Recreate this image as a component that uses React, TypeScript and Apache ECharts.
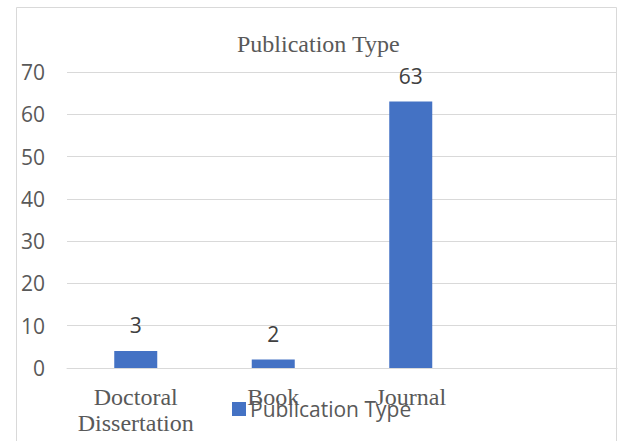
import React, { useEffect, useRef } from "react";
import * as echarts from "echarts";

const categories = ["Doctoral\nDissertation", "Book", "Journal", ""];
const values = [4, 2, 63, null];
const valueLabels = ["3", "2", "63", ""];
const seriesName = "Publication Type";
const chartTitle = "Publication Type";
const yMin = 0;
const yMax = 70;
const yInterval = 10;

export default function App() {
  const ref = useRef<HTMLDivElement>(null);
  useEffect(() => {
    if (!ref.current) return;
    const chart = echarts.init(ref.current, null, { renderer: "svg" });
    chart.setOption({
      animation: false,
      backgroundColor: "#ffffff",
      title: {
        text: chartTitle,
        left: 237,
        top: 32,
        padding: 0,
        textStyle: {
          fontFamily: "Liberation Serif",
          fontSize: 24,
          fontWeight: "normal",
          color: "#595959",
          lineHeight: 24,
        },
      },
      graphic: [
        {
          type: "rect",
          shape: { x: 16.5, y: 7.5, width: 600, height: 460 },
          style: { fill: "none", stroke: "#d9d9d9", lineWidth: 1 },
          silent: true,
          z: -1,
        },
      ],
      legend: {
        data: [seriesName],
        left: 232,
        top: 397,
        padding: 0,
        itemWidth: 14,
        itemHeight: 14,
        itemGap: 6,
        icon: "rect",
        textStyle: {
          fontFamily: "Open Sans",
          fontSize: 21,
          color: "#595959",
          lineHeight: 24,
          padding: [0, 0, 0, -1],
        },
      },
      grid: { left: 67, right: 1, top: 72, bottom: 73, containLabel: false },
      xAxis: {
        type: "category",
        data: categories,
        axisLine: { show: true, lineStyle: { color: "#d9d9d9", width: 1 } },
        axisTick: { show: false },
        axisLabel: {
          interval: 0,
          margin: 16,
          fontFamily: "Liberation Serif",
          fontSize: 24,
          lineHeight: 26,
          color: "#595959",
        },
      },
      yAxis: {
        type: "value",
        min: yMin,
        max: yMax,
        interval: yInterval,
        axisLine: { show: false },
        axisTick: { show: false },
        splitLine: { lineStyle: { color: "#d9d9d9", width: 1 } },
        axisLabel: {
          margin: 22,
          fontFamily: "Open Sans",
          fontSize: 21,
          color: "#595959",
        },
      },
      series: [
        {
          name: seriesName,
          type: "bar",
          data: values,
          barWidth: 43,
          itemStyle: { color: "#4472c4" },
          label: {
            show: true,
            position: "top",
            distance: 15,
            fontFamily: "Open Sans",
            fontSize: 21,
            lineHeight: 22,
            color: "#404040",
            formatter: (p: any) => valueLabels[p.dataIndex],
          },
        },
      ],
    });
    return () => chart.dispose();
  }, []);
  return (
    <div
      ref={ref}
      style={{ position: "fixed", left: 0, top: 0, width: 618, height: 441 }}
    />
  );
}
